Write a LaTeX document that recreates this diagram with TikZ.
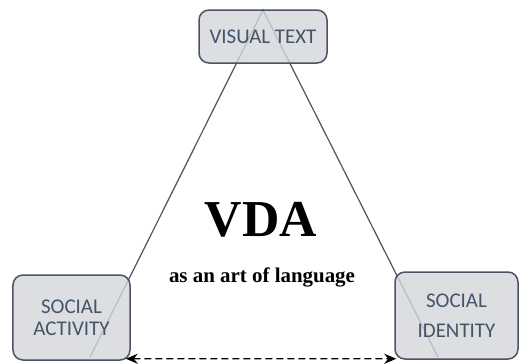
\documentclass[tikz,border=0pt]{standalone}
\usepackage{fontspec}
\setmainfont{Liberation Serif}
\newfontfamily\boxfont{Carlito}
\usetikzlibrary{arrows.meta}
\definecolor{slate}{HTML}{44546A}
\definecolor{boxgrey}{HTML}{D3D6DB}
\definecolor{edgegrey}{HTML}{4A5464}

\begin{document}
\begin{tikzpicture}[x=1bp, y=-1bp, line width=1.2bp,
  corner/.style={draw=edgegrey, line width=1.5bp, fill=boxgrey, fill opacity=0.8,
    text opacity=1, rounded corners=10bp, text=slate, align=center, inner sep=0pt,
    font=\boxfont\fontsize{21}{22}\selectfont},
  side/.style={draw=edgegrey, line width=1.2bp},
  link/.style={{Stealth[length=12bp,width=10bp]}-{Stealth[length=12bp,width=10bp]},
    line width=1.4bp, dash pattern=on 7bp off 4bp}]
  \useasboundingbox (0,0) rectangle (525,363);
  % triangle behind the boxes
  \coordinate (apex) at (263,10);
  \coordinate (lcorner) at (90,357);
  \coordinate (rcorner) at (438,357);
  \draw[side] (lcorner) -- (apex) -- (rcorner);
  % the three corners
  \node[corner, minimum width=128bp, minimum height=53bp] (visual) at (263,36.5) {VISUAL TEXT};
  \node[corner, minimum width=117bp, minimum height=85bp] (activity) at (71.5,317.5) {SOCIAL\\ACTIVITY};
  \node[corner, minimum width=123bp, minimum height=87bp,
    font=\boxfont\fontsize{21}{30}\selectfont] (identity) at (456.5,315.5) {SOCIAL\\IDENTITY};
  % centre text
  \node[font=\bfseries\fontsize{52}{52}\selectfont, inner sep=0pt] (vda) at (261,220) {VDA};
  \node[font=\bfseries\fontsize{21}{21}\selectfont, anchor=base, inner sep=0pt] (art) at (262,282) {as an art of language};
  \draw[link] ([shift={(-5,-2)}]activity.south east) -- ([shift={(2,-1)}]identity.south west);
\end{tikzpicture}
\end{document}
